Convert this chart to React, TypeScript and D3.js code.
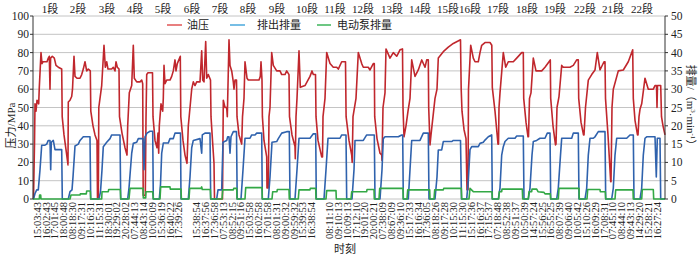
import React from "react";
import * as d3 from "d3";

// ---------- data (record number, value) ----------
// 油压 (MPa), left axis
const oilPressure: [number, number][] = [
  // 1段
  [33.5,0],[34.5,30],[35,52],[36,48],[37,54],[38.7,52],[39.3,61],[41,80],[42,74],[43,75],[47,75],[48.3,77],[49.3,78],[50,60],[50.6,77],[52.3,78],[54.3,77],[56,73],[58.3,72],[61.7,71],[62.2,45],[64,35],[66,27],[67.7,20],[68,18.6],
  // 2段
  [68.3,53],[70,54],[71.7,56],[72.5,60],[74,78],[75,67],[77,66],[80,66],[81.7,68],[83.3,71],[85,75],[86.7,70],[88.3,71],[90.3,70],[90.8,48],[93,40],[95,35],[97,32],[97.5,0],[98.3,0],
  // 3段
  [98.8,50],[100,55],[101.7,62],[104,84],[105.3,72],[106.7,75],[108,71],[111.7,71],[113.3,72],[115,70],[116,75],[117.3,72],[119,71],[119.5,45],[122,36],[125,28],[127,24],
  // 4段
  [127.7,40],[129.3,58],[131.7,62],[133.3,84],[134.3,66],[136.7,64],[140,64],[141.7,65],[142.7,63],[143.2,2],[145.3,2],[146,44],[146.7,68],[148,69],[152.5,69],[153,45],[155,32],[157,28],[158,36],[158.7,25],
  // 5段
  [159.3,40],[161,52],[162.7,48],[163.3,55],[164,73],[165,63],[166.7,65],[170,65],[171.7,67],[173.3,70],[175,76],[176,70],[177.3,74],[180.3,78],[180.8,45],[183,32],[185,24],[187,19.5],
  // 6段
  [188.3,40],[189,44],[191.7,60],[193.3,64],[195,62],[196.7,64],[200,64],[201.7,81],[202.7,65],[204,64],[205.7,86],[206.7,66],[208.3,68],[210.5,65],[211,45],[212.5,32],[214,19.5],[214.5,0],[222.5,0],
  // 7段
  [223.3,54],[225,50],[226.7,50],[227.3,45],[229,87],[230,73],[231.7,70],[233.3,64],[234,60],[235,65],[236.5,65],[237,45],[239,35],[241.7,30],[242.5,45],[244,55],
  // 8段
  [245,75],[247,66],[248.3,65],[259,65],[260.3,67],[261,75],[262,65],[262.4,45],[264,32],[266.7,23],[267,6],[268.3,6],
  // 9段
  [269,45],[270,50],[271.7,80],[273.3,73],[276.7,70],[280,70],[281.7,68],[285,68],[286.7,70],[289,68],[289.5,45],[292,35],[295,28.6],[295.3,22],
  // 10段
  [296,45],[297,55],[299,81],[300.3,61],[305,62],[310,67],[312,70],[313.3,68],[315.5,68],[316,45],[318,32],[321.7,23],[322.5,23],
  // 11段
  [323,45],[325,55],[326.7,80],[330,74],[333.3,72],[336.7,72],[338.3,71],[341.7,75],[345.5,75],[346.1,45],[349,32],[351.7,24],[352.2,20],
  // 12段
  [353,45],[356,55],[358.3,80],[361.7,74],[363.3,72],[368.3,72],[370,70.5],[373.3,74],[374.3,74],[374.7,45],[377,33],[380,25],[381.7,24],[382,21],
  // 13段
  [383,50],[385,58],[386,82],[390,77],[393.3,80],[396.7,78],[400,81.5],[402.5,82],[403,50],[404,34],[406,40],[408,48],[410,55],
  // 14段
  [411.7,76],[415,67],[418.3,70.5],[421.7,76],[425,72],[426.7,76],[428.3,76],[428.7,50],[430,29.5],[431,35],[433,45],[435,55],[437,60],
  // 15段
  [438.3,77],[443.3,80.5],[448.3,83],[453.3,85],[460.5,87],[461.2,60],[462,48],[464,38],[466,33],[467,5],[468,5],
  // 16段
  [468.5,60],[470.7,84],[473.3,77],[475,75],[478.3,75],[480,80],[481.7,84],[485,85.5],[490,85.5],[491.8,84],[492.3,61],[495,48],[498,30],[498.5,30],
  // 17段
  [499,50],[500,58],[503.3,80],[505.7,72],[508.3,75],[513.3,75],[516.7,77],[521.7,80],[523.3,80],[523.7,55],[526,42],[528,34],[528.5,34],
  // 18段
  [529.5,55],[531,58],[533.3,77],[536,70],[541.7,70],[545,72],[550.3,76],[550.7,55],[553,40],[555.5,29.6],[556,30],
  // 19段
  [557,50],[559,56],[561.7,73],[563.3,72],[570,72],[573.3,73],[576.7,76],[578.3,76],[578.7,55],[581,42],[583.5,35],[584,35],
  // 20段
  [585.5,50],[588.3,65],[591.7,68],[595,70.5],[597.3,80],[600,70.5],[604,75],[605,75],[605.5,55],[608,35],[610.7,9.5],[611,9.5],
  // 21段
  [612,50],[613.3,60],[618.3,70],[623.3,70.5],[628.3,75],[632.7,81.5],[633.3,55],[635,43],[637.5,35],[638,35],
  // 22段
  [639,45],[640,49],[641.7,52],[645,66],[648.3,60],[653.3,60],[655,62],[656.5,62],[657,50],[657.5,62],[660.7,62],[661.5,45],[663,40],[665,35],
];

// 排出排量 (m³/min), right axis
const dischargeRate: [number, number][] = [
  [33,0],[33.5,0],[35,1.5],[36.7,2.5],[38.3,2.5],[40,8],[41.7,14.7],[45,14.7],[46.7,15],[48.3,16],[50,16],[50.7,8],[51.3,15.5],[53.3,16],[55,13.5],[61.7,13.5],[62.3,0],
  [68.3,0],[70,2],[72,2.5],[73,6],[75,14.5],[78.3,15],[80,16],[83.3,17],[90,17],[90.7,0],
  [99,0],[100.5,2],[102,8],[103.3,14.3],[106.7,15.5],[110,16.5],[111.7,17.5],[120,17.5],[120.7,0],
  [127.7,0],[129,3],[131.7,12.5],[133.3,15.2],[136.7,15.5],[138.3,16.5],[143,16.5],[144,8],[145,17],[147,18],[150,18.5],[152.7,18.5],[153.3,0],
  [159.3,0],[160.5,4],[161.7,12.5],[163.3,15.3],[168.3,15.3],[170,16.5],[173.3,16.5],[175,18],[180.5,18],[181,0],
  [188.3,0],[190,6],[191.7,14],[193.3,16],[200,16.5],[201.7,12.5],[202.3,17.5],[205,18],[210,18],[210.7,0],
  [216.7,0],[218,2.5],[221.7,2.5],[223,15.5],[226.7,16],[227.7,17],[229,17],[230,12.5],[231,17],[233.3,18.4],[236.5,18.4],[237.2,0],
  [241,0],[243,8],[245,16.6],[250,16.6],[251.7,17.5],[255,17.5],[256.7,18],[261.7,18],[262.3,0],
  [268.3,0],[270,6],[272,15.5],[276.7,15.7],[278.3,16.5],[281.7,18],[286.7,18.4],[289.3,18.4],[290,0],
  [295,0],[297,8],[299,16.6],[310,16.6],[313.3,17.8],[315.7,17.8],[316.3,0],
  [324,0],[326,8],[328,16.6],[340,16.6],[341.7,17.5],[346,17.5],[346.7,0],
  [352,0],[354,8],[355,16],[363.3,16],[366.7,17.5],[374.3,17.5],[375,0],
  [380,0],[382,8],[383.3,16.5],[385,17],[398.3,17],[401.7,17.5],[402.7,17.5],[403.3,0],
  [408.3,0],[410,8],[411.7,16],[420,16],[423.3,18],[428.3,18],[429,0],
  [435,0],[437,6],[438.3,13.4],[441.7,13.4],[443.3,15.7],[451.7,15.7],[453.3,16],[460.5,16],[461.5,0],
  [466.7,0],[468.3,5],[470,13.5],[471.7,14.3],[478.3,14.3],[480,15.2],[483.3,15.5],[485,16.1],[488.3,17],[491.7,17.5],[492.3,0],
  [498.3,0],[500,3],[501.7,12],[503.3,14.3],[505,15.7],[508.3,16.6],[515,16.6],[516.7,17.2],[523.3,17.2],[524,0],
  [528.3,0],[530,3],[532,12],[533.3,15.7],[536.7,16],[540,16.6],[545,16.6],[547.3,18],[550,18],[550.7,0],
  [556.7,0],[558.3,3],[560.5,12],[561.7,16.6],[571.7,16.6],[573.3,18],[578.3,18],[579,0],
  [585,0],[586.7,3],[588.3,12],[590,16.6],[593.3,16.6],[595,17],[598.3,18.4],[605,18.4],[605.7,0],
  [611.7,0],[613.3,3],[615,12],[616.7,16.6],[626.7,16.6],[630,17.5],[633.3,17.5],[634,0],
  [640,0],[641.7,3],[643.3,12],[645,16.6],[646.7,17],[655,17],[656.3,6],[657.3,16.6],[660,16.6],[660.7,0],[665,0],
];

// 电动泵排量 (m³/min), right axis
const pumpRate: [number, number][] = [
  [33,0],[39.3,0],[39.6,1.1],[40.7,1.1],[41,0],
  [70,0],[71,1.1],[80,1.1],[80.3,1.4],[86.3,1.4],[86.7,2.2],[90.3,2.2],[90.7,0],
  [101.7,0],[102,2],[108.3,2],[108.7,2.6],[120.3,2.6],[120.7,0],
  [129,0],[130,2.9],[143,2.9],[143.3,0.3],[145.7,0.3],[146,2],[152.7,2],[153.3,0],
  [160,0],[160.7,3.3],[170,3.3],[170.3,2.7],[181,2.7],[181.4,0],
  [189,0],[189.7,2.9],[201,2.9],[201.7,3.3],[202.3,2.6],[210.3,2.6],[210.7,0],
  [222,0],[222.7,2.5],[233.3,2.5],[233.7,2.9],[236.7,2.9],[237,0],
  [245,0],[245.7,3.1],[262,3.1],[262.3,0],
  [272,0],[272.7,2],[277,2],[277.3,2.6],[289,2.6],[289.3,0],
  [298.3,0],[299,2.5],[310,2.5],[310.3,2.9],[315.7,2.9],[316,0],
  [326,0],[326.7,2.3],[336,2.3],[336.3,0],
  [351,0],[351.7,2],[366.7,2],[367,2.6],[374,2.6],[374.3,0],
  [379,0],[379.7,2.9],[403,2.9],[403.3,0],
  [407,0],[407.7,2.5],[429.7,2.5],[430,0],
  [434,0],[434.7,2.5],[443.3,2.5],[443.7,2.9],[461.3,2.9],[461.7,0],
  [469,0],[470,2.9],[473.3,2],[492,2],[492.3,0],
  [498.7,0],[499.3,2],[501.7,2],[502,2.7],[522.3,2.7],[522.7,0],
  [528.3,0],[529,2],[531.7,2],[532,2.7],[536.7,2.7],[538,2],[544,1.8],[545,1.4],[550.3,1.4],[550.7,0],
  [558.3,0],[559,2.9],[579,2.9],[579.3,0],
  [587,0],[587.7,2.6],[600,2.6],[600.3,2],[605.3,2],[605.7,0],
  [615,0],[615.7,2.5],[633,2.5],[633.3,0],
  [641.7,0],[642.3,2.6],[653.3,2.6],[653.7,0],[665,0],
];

// stage labels and their centre record numbers
const stageLabels = ["1段","2段","3段","4段","5段","6段","7段","8段","9段","10段","11段","12段","13段","14段","15段","16段","17段","18段","19段","22段","21段","22段"];
const stageCenters = [50,78,107,135,163,192,220,248,277,307,335,363,392,420,448,470,498,527,555,585,613,642];

// time labels (blank = no label)
const timeLabels = [
  "15:03:43","16:02:43","17:01:45","18:00:48","08:18:30","09:17:31","10:16:31","11:15:31","18:30:01","19:29:02","20:28:02","07:44:13","08:43:14","10:00:09","15:36:19","16:40:22","17:39:26",
  "",
  "15:38:54","16:37:56","17:36:58","07:53:13","08:52:15","09:51:16","15:03:58","16:02:58","17:01:58","08:01:31","09:00:32","09:59:32","15:39:53","16:38:54",
  "",
  "08:11:10","09:10:13","10:09:13","17:12:10","19:01:20","20:00:21","07:38:09","08:67:09","09:36:10","15:17:33","16:16:34","17:36:05","08:18:26","09:17:28","10:15:30","11:15:30","15:17:36","16:16:37","17:15:37","07:18:48","08:52:38","09:51:37","10:50:39","14:57:24","15:56:25","16:55:25","08:07:39","09:06:40","10:05:42","15:10:26","16:09:29","17:08:31","07:45:10","08:44:10","09:43:13","14:29:20","15:28:21","16:27:24",
];
const firstLabelRecord = 37;
const lastLabelRecord = 657;

const pressureTicks = [0,10,20,30,40,50,60,70,80,90,100];
const rateTicks = [0,5,10,15,20,25,30,35,40,45,50];

const recordDomain: [number, number] = [33, 665];

// ---------- layout ----------
const W = 700, H = 256;
const plot = { left: 33, right: 665, top: 16, bottom: 199 };
const RED = "#c0272d", BLUE = "#2f62ad", GREEN = "#33a845";
const SERIF = "'Liberation Serif', 'Times New Roman', 'Noto Sans CJK SC', serif";
const CJK = "'Noto Sans CJK SC', 'Liberation Serif', serif";

export default function App() {
  const x = d3.scaleLinear().domain(recordDomain).range([plot.left, plot.right]);
  const yL = d3.scaleLinear().domain([0, 100]).range([plot.bottom, plot.top]);
  const yR = d3.scaleLinear().domain([0, 50]).range([plot.bottom, plot.top]);

  const lineL = d3.line<[number, number]>().x(d => x(d[0])).y(d => yL(d[1]));
  const lineR = d3.line<[number, number]>().x(d => x(d[0])).y(d => yR(d[1]));

  const step = (lastLabelRecord - firstLabelRecord) / (timeLabels.length - 1);
  const tickRec = timeLabels.map((_, i) => firstLabelRecord + i * step);

  return (
    <svg width={W} height={H} style={{ display: "block", position: "absolute", left: 0, top: 0, background: "#fff" }}>
      {/* grid */}
      {pressureTicks.map(t => (
        <line key={"g" + t} x1={plot.left} x2={plot.right} y1={yL(t)} y2={yL(t)} stroke="#c4c4c4" strokeWidth={1} />
      ))}
      {/* series */}
      <path d={lineL(oilPressure) || ""} fill="none" stroke={RED} strokeWidth={1.6} strokeLinejoin="round" />
      <path d={lineR(dischargeRate) || ""} fill="none" stroke={BLUE} strokeWidth={1.6} strokeLinejoin="round" />
      <path d={lineR(pumpRate) || ""} fill="none" stroke={GREEN} strokeWidth={1.6} strokeLinejoin="round" />

      {/* axes */}
      <line x1={plot.left} x2={plot.left} y1={plot.top} y2={plot.bottom} stroke="#333" strokeWidth={1} />
      <line x1={plot.right} x2={plot.right} y1={plot.top} y2={plot.bottom} stroke="#333" strokeWidth={1} />
      {pressureTicks.map(t => (
        <g key={"l" + t}>
          <line x1={plot.left - 3} x2={plot.left} y1={yL(t)} y2={yL(t)} stroke="#333" />
          <text x={plot.left - 4} y={yL(t)} dy="0.35em" textAnchor="end" fontFamily={SERIF} fontSize={11.5} fill="#222">{t}</text>
        </g>
      ))}
      {rateTicks.map(t => (
        <g key={"r" + t}>
          <line x1={plot.right} x2={plot.right + 3} y1={yR(t)} y2={yR(t)} stroke="#333" />
          <text x={plot.right + 6} y={yR(t)} dy="0.35em" textAnchor="start" fontFamily={SERIF} fontSize={11.5} fill="#222">{t}</text>
        </g>
      ))}

      {/* time labels */}
      {timeLabels.map((lab, i) => lab ? (
        <text key={"t" + i} transform={`translate(${x(tickRec[i])},${plot.bottom + 3}) rotate(-90)`} textAnchor="end" dy="0.35em"
          fontFamily={SERIF} fontSize={10.5} fill="#222">{lab}</text>
      ) : null)}

      {/* stage labels */}
      {stageLabels.map((s, i) => (
        <text key={"s" + i} x={x(stageCenters[i])} y={9} dy="0.35em" textAnchor="middle" fontFamily={CJK} fontSize={11} fill="#222">
          <tspan fontFamily={SERIF}>{s.replace("段", "")}</tspan>段
        </text>
      ))}

      {/* axis titles */}
      <text transform={`translate(11,${(plot.top + plot.bottom) / 2 + 18}) rotate(-90)`} textAnchor="middle" dy="0.35em" fontFamily={CJK} fontSize={11} fill="#222">
        压力<tspan fontFamily={SERIF}>/MPa</tspan>
      </text>
      <text transform={`translate(691,${(plot.top + plot.bottom) / 2}) rotate(90)`} textAnchor="middle" dy="0.35em" fontFamily={CJK} fontSize={11} fill="#222">
        排量<tspan fontFamily={SERIF}>/（m</tspan><tspan fontFamily={SERIF} fontSize={7} dy="-4">3</tspan><tspan fontFamily={SERIF} dy="4">·min</tspan><tspan fontFamily={SERIF} fontSize={7} dy="-4">-1</tspan><tspan fontFamily={SERIF} dy="4">）</tspan>
      </text>
      <text x={345} y={253} textAnchor="middle" fontFamily={CJK} fontSize={11} fill="#222">时刻</text>

      {/* legend */}
      <g fontFamily={CJK} fontSize={11} fill="#222">
        <line x1={167} x2={182} y1={25} y2={25} stroke="#e05555" strokeWidth={1.5} />
        <text x={187} y={25} dy="0.35em">油压</text>
        <line x1={230} x2={245} y1={25} y2={25} stroke="#4aa8dc" strokeWidth={1.5} />
        <text x={257} y={25} dy="0.35em">排出排量</text>
        <line x1={317} x2={331} y1={25} y2={25} stroke="#3db55a" strokeWidth={1.5} />
        <text x={337} y={25} dy="0.35em">电动泵排量</text>
      </g>
    </svg>
  );
}
